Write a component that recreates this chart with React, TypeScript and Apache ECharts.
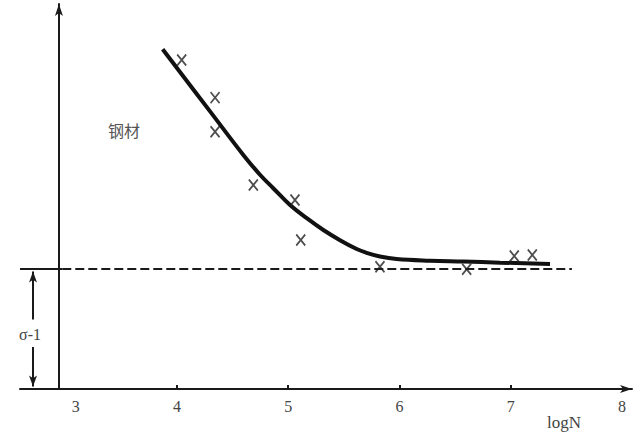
import React, { useEffect, useRef } from "react";
import * as echarts from "echarts";

// S-N curve (logN vs stress), fatigue limit sigma-1 = 100
const curveLogN = [3.872, 4.298, 4.597, 4.747, 4.866, 5.017, 5.167, 5.316, 5.466, 5.616, 5.700, 5.825, 5.975, 6.275, 6.574, 6.904, 7.353];
const curveStress = [283.1, 231.3, 195.0, 178.5, 167.3, 153.3, 142.3, 132.5, 124.0, 116.6, 113.6, 110.4, 108.3, 106.9, 106.2, 105.3, 104.2];

const testLogN = [4.043, 4.343, 4.343, 4.687, 5.061, 5.113, 5.825, 6.604, 7.032, 7.194];
const testStress = [274.2, 242.8, 214.4, 170.0, 157.5, 124.2, 101.9, 99.8, 110.8, 111.7];

const fatigueLimit = 100;
const xTickValues = [4, 5, 6, 7];
const xLabelValues = [3.09, 4, 5, 6, 7, 8];

const X_MIN = 2.59;
const X_MAX = 8.09;
const Y_MAX = 320.8;
const Y_AXIS_AT = 2.94;
const ARROW_X = 2.707;

const serif = "'Liberation Serif', 'DejaVu Serif', serif";

export default function App() {
  const ref = useRef<HTMLDivElement>(null);
  useEffect(() => {
    if (!ref.current) return;
    const chart = echarts.init(ref.current, null, { renderer: "svg" });
    const cross = "path://M0,0L10,12M10,0L0,12";
    chart.setOption({
      animation: false,
      backgroundColor: "#ffffff",
      grid: { left: 20, right: 8, top: 4, bottom: 50, containLabel: false },
      xAxis: {
        type: "value",
        min: X_MIN,
        max: X_MAX,
        splitLine: { show: false },
        axisLine: {
          onZero: false,
          symbol: ["none", "arrow"],
          symbolSize: [6, 12],
          lineStyle: { color: "#1a1a1a", width: 2 },
        },
        axisTick: {
          show: true,
          inside: true,
          length: 4,
          customValues: xTickValues,
          lineStyle: { color: "#1a1a1a", width: 2 },
        },
        axisLabel: {
          customValues: xLabelValues,
          formatter: (v: number) => String(Math.round(v)),
          color: "#444",
          fontFamily: serif,
          fontSize: 16,
          margin: 9,
        },
      },
      yAxis: {
        type: "value",
        min: 0,
        max: Y_MAX,
        offset: -((Y_AXIS_AT - X_MIN) / (X_MAX - X_MIN)) * 612,
        splitLine: { show: false },
        axisTick: { show: false },
        axisLabel: { show: false },
        axisLine: {
          show: true,
          onZero: false,
          symbol: ["none", "arrow"],
          symbolSize: [6, 12],
          lineStyle: { color: "#1a1a1a", width: 2 },
        },
      },
      graphic: [
        {
          type: "text",
          left: 108,
          top: 122,
          style: { text: "钢材", fill: "#555", fontSize: 16, fontFamily: "'Noto Sans CJK SC', sans-serif" },
        },
        {
          type: "text",
          left: 547,
          top: 414,
          style: { text: "logN", fill: "#444", fontSize: 17, fontFamily: serif },
        },
        {
          type: "text",
          left: 19,
          top: 326,
          style: { text: "σ-1", fill: "#444", fontSize: 16, fontFamily: serif },
        },
      ],
      series: [
        {
          type: "line",
          data: curveLogN.map((x, i) => [x, curveStress[i]]),
          smooth: 0.4,
          showSymbol: false,
          lineStyle: { color: "#111", width: 4 },
          z: 3,
          markLine: {
            silent: true,
            animation: false,
            label: { show: false },
            symbol: ["none", "none"],
            data: [
              [
                { coord: [X_MIN, fatigueLimit], symbol: "none", lineStyle: { type: "solid", color: "#1a1a1a", width: 2 } },
                { coord: [Y_AXIS_AT + 0.03, fatigueLimit], symbol: "none" },
              ],
              [
                { coord: [Y_AXIS_AT + 0.03, fatigueLimit], symbol: "none", lineStyle: { type: [9, 4], color: "#1a1a1a", width: 2 } },
                { coord: [7.55, fatigueLimit], symbol: "none" },
              ],
              [
                { coord: [ARROW_X, 58], symbol: "none", lineStyle: { type: "solid", color: "#1a1a1a", width: 2 } },
                { coord: [ARROW_X, fatigueLimit - 2], symbol: "arrow", symbolSize: [6, 11] },
              ],
              [
                { coord: [ARROW_X, 35], symbol: "none", lineStyle: { type: "solid", color: "#1a1a1a", width: 2 } },
                { coord: [ARROW_X, 2], symbol: "arrow", symbolSize: [6, 11] },
              ],
            ],
          },
        },
        {
          type: "scatter",
          data: testLogN.map((x, i) => [x, testStress[i]]),
          symbol: cross,
          symbolSize: [9, 11],
          itemStyle: { color: "none", borderColor: "#222", borderWidth: 1.8 },
          z: 4,
        },
      ],
    });
    return () => chart.dispose();
  }, []);
  return (
    <div
      ref={ref}
      style={{ position: "fixed", left: 0, top: 0, width: 640, height: 439, background: "#fff" }}
    />
  );
}
